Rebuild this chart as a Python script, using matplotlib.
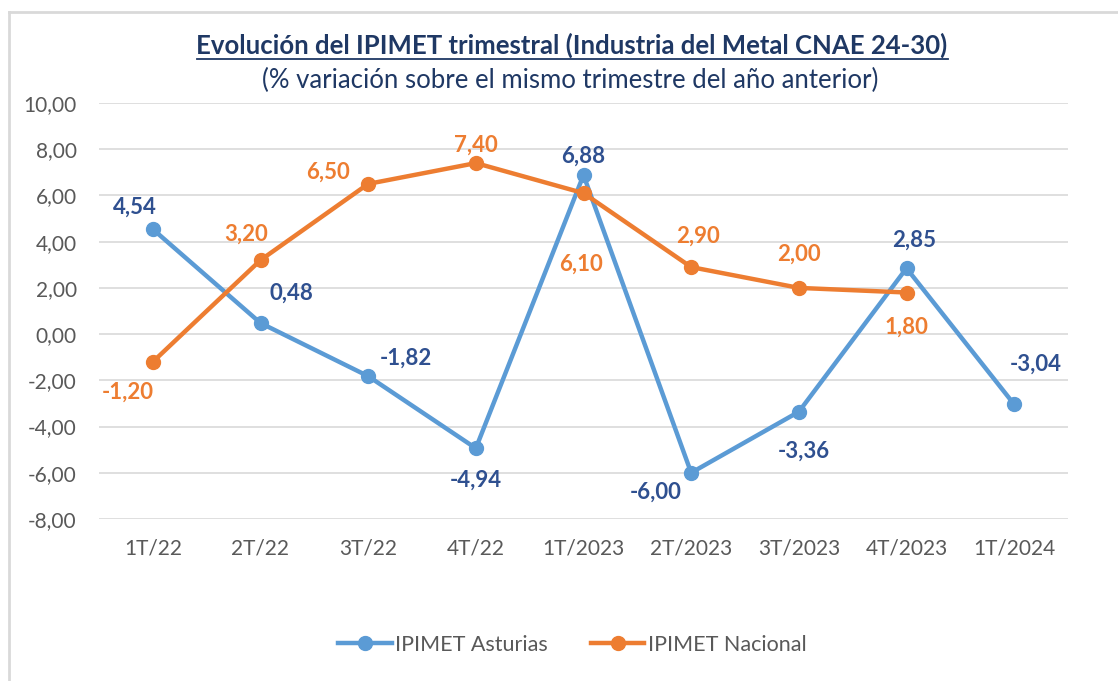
import numpy as np
import matplotlib.pyplot as plt
from matplotlib.lines import Line2D

# datos
trimestres = ['1T/22', '2T/22', '3T/22', '4T/22', '1T/2023', '2T/2023', '3T/2023', '4T/2023', '1T/2024']
asturias = [4.54, 0.48, -1.82, -4.94, 6.88, -6.00, -3.36, 2.85, -3.04]
nacional = [-1.20, 3.20, 6.50, 7.40, 6.10, 2.90, 2.00, 1.80]
yticks = [-8, -6, -4, -2, 0, 2, 4, 6, 8, 10]

# desplazamiento de etiquetas (pixeles)
off_ast = [(-18, 22), (31, 30), (38, 18), (0, -32), (0, 19), (-35, -19), (5, -39), (8, 28), (22, 40)]
off_nac = [(-25, -30), (-14, 26), (-40, 12), (0, 18), (-3, -71), (7, 31), (0, 34), (0, -35)]

azul = '#5B9BD5'
naranja = '#ED7D31'
azul_txt = '#2F5090'
gris = '#595959'
fuente = ['Lato', 'DejaVu Sans']

plt.rcParams['font.family'] = fuente

fig = plt.figure(figsize=(11.18, 6.81), dpi=100)
ax = fig.add_axes([99/1118, 1-519/681, (1068-99)/1118, (519-103)/681])

x = np.arange(len(trimestres))
ax.plot(x, asturias, color=azul, lw=3.2, marker='o', ms=10, zorder=3)
ax.plot(x[:len(nacional)], nacional, color=naranja, lw=3.2, marker='o', ms=10, zorder=4)

for i, v in enumerate(asturias):
    ax.annotate('{:.2f}'.format(v).replace('.', ','), (x[i], v), xytext=(off_ast[i][0]*0.72, off_ast[i][1]*0.72),
                textcoords='offset points', ha='center', va='center', color=azul_txt,
                fontsize=16, fontweight='bold', zorder=5)
for i, v in enumerate(nacional):
    ax.annotate('{:.2f}'.format(v).replace('.', ','), (x[i], v), xytext=(off_nac[i][0]*0.72, off_nac[i][1]*0.72),
                textcoords='offset points', ha='center', va='center', color=naranja,
                fontsize=16, fontweight='bold', zorder=5)

ax.set_xlim(-0.5, len(trimestres)-0.5)
ax.set_ylim(-8, 10)
ax.set_yticks(yticks)
ax.set_yticklabels(['{:.2f}'.format(t).replace('.', ',') for t in yticks])
ax.set_xticks(x)
ax.set_xticklabels(trimestres)
ax.tick_params(axis='both', length=0, colors=gris, labelsize=15)
ax.tick_params(axis='y', pad=16)
ax.tick_params(axis='x', pad=14)
ax.grid(axis='y', color='#D9D9D9', lw=1.2)
ax.set_axisbelow(True)
for s in ax.spines.values():
    s.set_visible(False)

fig.text(572/1118, 1-45/681, 'Evolución del IPIMET trimestral (Industria del Metal CNAE 24-30)',
         ha='center', va='center', fontsize=18.5, fontweight='bold', color='#1F3864')
# subrayado del titulo
fig.add_artist(Line2D([197/1118, 948/1118], [1-59/681, 1-59/681], color='#1F3864', lw=1.3))
fig.text(570/1118, 1-80/681, '(% variación sobre el mismo trimestre del año anterior)',
         ha='center', va='center', fontsize=18.5, color='#1F3864')

h1 = Line2D([], [], color=azul, lw=3.2, marker='o', ms=10)
h2 = Line2D([], [], color=naranja, lw=3.2, marker='o', ms=10)
fig.legend([h1, h2], ['IPIMET Asturias', 'IPIMET Nacional'], loc='center', bbox_to_anchor=(572/1118, 1-645/681),
           ncol=2, frameon=False, fontsize=15.5, labelcolor=gris, handlelength=2.5, handletextpad=0.15,
           columnspacing=2.0)

# marco
fig.add_artist(Line2D([9/1118, 9/1118], [0, 1-12/681], color='#D9D9D9', lw=2))
fig.add_artist(Line2D([9/1118, 1], [1-12/681, 1-12/681], color='#D9D9D9', lw=2))

fig.savefig('out.png', dpi=100)
